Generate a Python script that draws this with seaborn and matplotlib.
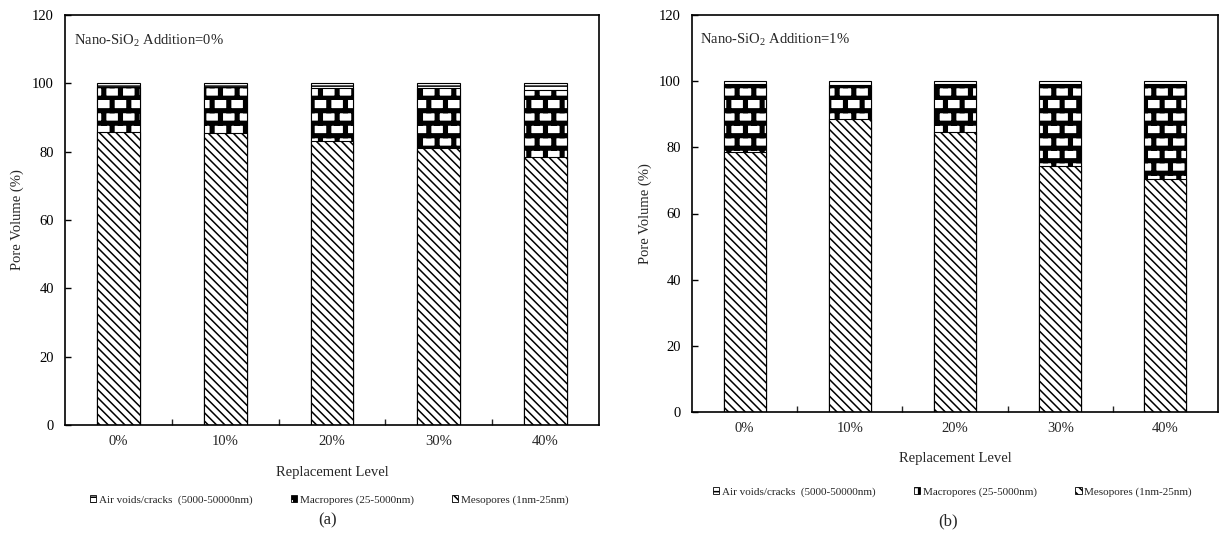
import matplotlib
matplotlib.use("Agg")
import matplotlib.pyplot as plt
import matplotlib.hatch as mhatch
from matplotlib.path import Path
from matplotlib.patches import Patch
import pandas as pd
import seaborn as sns

# ---- data -------------------------------------------------------------
levels = ["0%", "10%", "20%", "30%", "40%"]

# Nano-SiO2 addition = 0 %
meso_0 = [85.8, 85.6, 83.0, 81.0, 78.3]
macro_0 = [13.0, 13.2, 15.7, 17.7, 19.7]
air_0 = [1.2, 1.2, 1.3, 1.3, 2.0]

# Nano-SiO2 addition = 1 %
meso_1 = [78.5, 88.5, 84.7, 74.5, 70.5]
macro_1 = [20.7, 10.2, 14.3, 24.5, 28.5]
air_1 = [0.8, 1.3, 1.0, 1.0, 1.0]

series_labels = ["Air voids/cracks  (5000-50000nm)",
                 "Macropores (25-5000nm)",
                 "Mesopores (1nm-25nm)"]
panel_notes = ["Nano-SiO$_2$ Addition=0%", "Nano-SiO$_2$ Addition=1%"]
panel_tags = ["(a)", "(b)"]


# ---- running-bond brick hatch ----------------------------------------
class BrickHatch(mhatch.HatchPatternBase):
    """Brick wall: mortar joints drawn as small filled rectangles."""
    rows, cols, joint = 8, 6, 0.036

    def __init__(self, hatch, density):
        active = "O" in hatch
        n_rects = self.rows * (1 + self.cols) if active else 0
        self.num_vertices = n_rects * 5

    def set_vertices_and_codes(self, vertices, codes):
        h = 1.0 / self.rows
        w = 1.0 / self.cols
        t = self.joint
        rects = []
        for r in range(self.rows):
            y0 = r * h
            rects.append((0.0, y0, 1.0, y0 + t))
            shift = 0.02 + (w / 2 if r % 2 else 0.0)
            for c in range(self.cols):
                x0 = shift + c * w
                rects.append((x0, y0, x0 + t, y0 + h))
        k = 0
        for x0, y0, x1, y1 in rects:
            vertices[k:k + 5] = [(x0, y0), (x1, y0), (x1, y1), (x0, y1), (x0, y0)]
            codes[k:k + 5] = [Path.MOVETO, Path.LINETO, Path.LINETO,
                              Path.LINETO, Path.CLOSEPOLY]
            k += 5


mhatch._hatch_types = [BrickHatch if t is mhatch.LargeCircles else t
                       for t in mhatch._hatch_types]

HATCH_AIR = "---"
HATCH_MACRO = "O"
HATCH_MESO = "\\\\\\\\"

# ---- style ------------------------------------------------------------
sns.set_style("white")
plt.rcParams["font.family"] = ["Liberation Serif", "DejaVu Serif"]
plt.rcParams["mathtext.fontset"] = "custom"
plt.rcParams["mathtext.rm"] = "Liberation Serif"
plt.rcParams["mathtext.default"] = "regular"
plt.rcParams["hatch.linewidth"] = 1.1

W, H = 1224, 535
fig = plt.figure(figsize=(W / 100, H / 100), dpi=100)


def px_axes(left, top, right, bottom):
    return fig.add_axes([left / W, 1 - bottom / H, (right - left) / W, (bottom - top) / H])


def draw_panel(ax, meso, macro, air, note, legend_y):
    df = pd.DataFrame({"level": levels, "meso": meso, "macro": macro, "air": air})
    df["mid"] = df["meso"] + df["macro"]
    df["upper"] = df["mid"] + df["air"]
    for col, hatch in [("upper", HATCH_AIR), ("mid", HATCH_MACRO), ("meso", HATCH_MESO)]:
        sns.barplot(data=df, x="level", y=col, order=levels, color="white",
                    saturation=1, edgecolor="black", linewidth=0.8, width=0.4,
                    hatch=hatch, errorbar=None, ax=ax)

    ax.set_xlim(-0.5, len(levels) - 0.5)
    ax.set_ylim(0, 120)
    ax.set_yticks(range(0, 121, 20))
    ax.set_xticks([i + 0.5 for i in range(len(levels) - 1)], minor=True)
    ax.tick_params(axis="y", direction="in", length=4, width=1, pad=8,
                   labelsize=10.5, colors="black", left=True)
    ax.tick_params(axis="x", which="major", length=0, pad=7, labelsize=10.5)
    ax.tick_params(axis="x", which="minor", direction="in", length=4, width=1,
                   bottom=True)
    for sp in ax.spines.values():
        sp.set_visible(True)
        sp.set_color("black")
        sp.set_linewidth(1.2)

    ax.set_ylabel("Pore Volume (%)", fontsize=10.5)
    ax.yaxis.set_label_coords(-0.076, 0.5)
    ax.set_xlabel("Replacement Level", fontsize=10.5)
    ax.xaxis.set_label_coords(0.5, -0.1)

    ax.text(0.016, 0.937, note, transform=ax.transAxes, fontsize=10.5,
            ha="left", va="center")

    handles = [Patch(facecolor="white", edgecolor="black", linewidth=0.6, hatch=h)
               for h in (HATCH_AIR, HATCH_MACRO, HATCH_MESO)]
    ax.legend(handles, series_labels, loc="center", bbox_to_anchor=(0.495, legend_y),
              ncol=3, frameon=False, fontsize=8, handlelength=0.6,
              handleheight=0.6, handletextpad=0.25, columnspacing=3.4,
              borderaxespad=0)


ax_a = px_axes(65, 15, 599, 425)
draw_panel(ax_a, meso_0, macro_0, air_0, panel_notes[0], -0.183)
ax_b = px_axes(692, 15, 1218, 412)
draw_panel(ax_b, meso_1, macro_1, air_1, panel_notes[1], -0.2015)

fig.text(328 / W, 1 - 520 / H, panel_tags[0], ha="center", va="center", fontsize=12)
fig.text(948 / W, 1 - 521 / H, panel_tags[1], ha="center", va="center", fontsize=12)

fig.savefig("out.png", dpi=100, facecolor="white")
